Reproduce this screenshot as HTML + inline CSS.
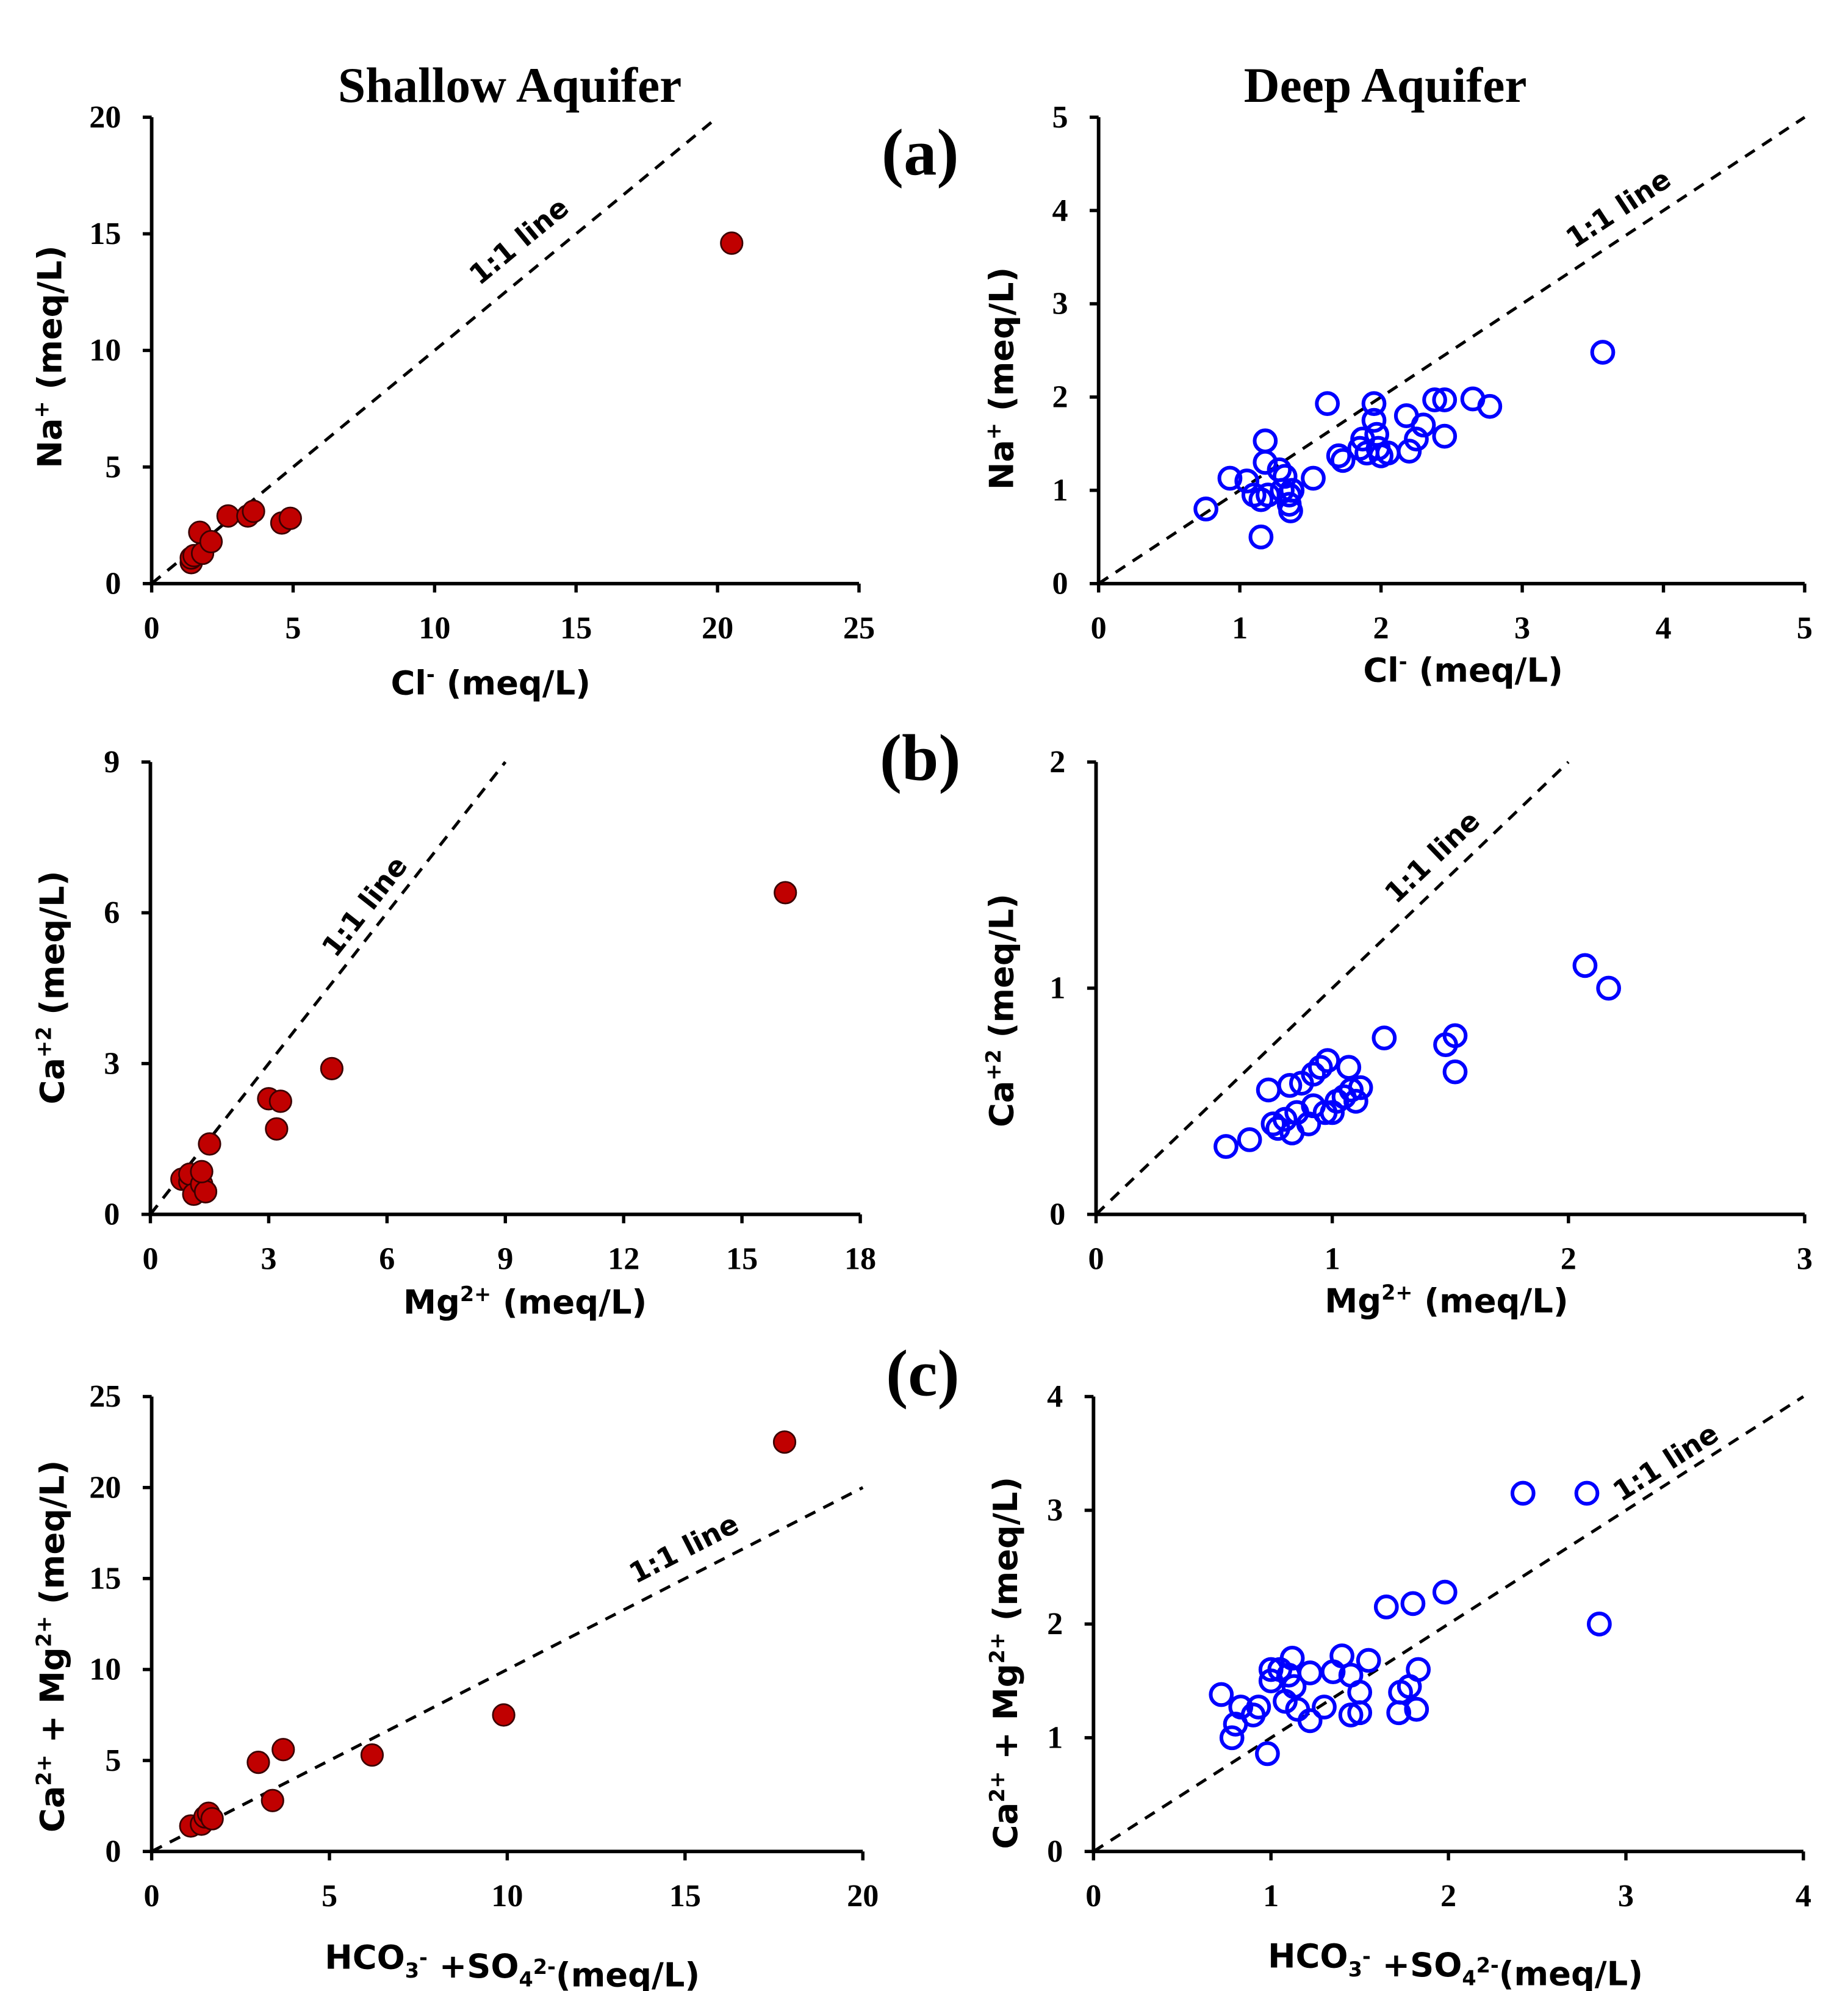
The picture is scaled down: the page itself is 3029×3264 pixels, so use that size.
<!DOCTYPE html>
<html><head><meta charset="utf-8"><style>
html,body{margin:0;padding:0;background:#fff}
svg{display:block}
.tk{font-family:"Liberation Serif",serif;font-weight:bold;font-size:25px;fill:#000}
.at{font-family:"DejaVu Sans","Liberation Sans",sans-serif;font-weight:bold;font-size:26px;fill:#000}
.ttl{font-family:"Liberation Serif",serif;font-weight:bold;font-size:39px;fill:#000}
.pl{font-family:"Liberation Serif",serif;font-weight:bold;font-size:52px;fill:#000}
.ol{font-family:"DejaVu Sans","Liberation Sans",sans-serif;font-weight:bold;font-size:22px;fill:#000}
</style></head><body>
<svg id="fig" xmlns="http://www.w3.org/2000/svg" width="3029" height="3264" viewBox="0 0 1450 1562.5">
<text class="ttl" x="400" y="80" text-anchor="middle">Shallow Aquifer</text>
<text class="ttl" x="1087" y="80" text-anchor="middle">Deep Aquifer</text>
<text class="pl" x="722" y="137" text-anchor="middle">(a)</text>
<text class="pl" x="722" y="612" text-anchor="middle">(b)</text>
<text class="pl" x="724" y="1095" text-anchor="middle">(c)</text>
</svg>
<script>
// Shallow (a) Cl vs Na
const saX=[1.4,1.4,1.5,1.8,1.7,2.1,2.7,3.4,3.6,4.6,4.9,20.5];
const saY=[0.9,1.1,1.2,1.3,2.2,1.8,2.9,2.9,3.1,2.6,2.8,14.6];
// Deep (a)
const daX=[0.76,0.93,1.05,1.1,1.15,1.15,1.18,1.18,1.2,1.28,1.3,1.32,1.35,1.35,1.36,1.37,1.52,1.62,1.7,1.73,1.85,1.87,1.9,1.95,1.95,1.97,1.98,2.0,2.05,2.18,2.2,2.25,2.3,2.38,2.45,2.45,2.65,2.77,3.57];
const daY=[0.8,1.13,1.1,0.95,0.9,0.5,1.53,1.3,0.95,1.22,1.0,1.15,0.95,0.85,0.78,1.0,1.13,1.93,1.37,1.32,1.45,1.55,1.4,1.93,1.75,1.6,1.45,1.37,1.4,1.8,1.42,1.55,1.7,1.97,1.97,1.58,1.98,1.9,2.48];
// Shallow (b) Mg vs Ca
const sbX=[0.8,1.0,1.0,1.1,1.3,1.4,1.3,1.5,3.0,3.3,3.2,4.6,16.1];
const sbY=[0.7,0.65,0.8,0.4,0.6,0.45,0.85,1.4,2.3,2.25,1.7,2.9,6.4];
// Deep (b)
const dbX=[0.55,0.65,0.73,0.75,0.77,0.8,0.82,0.83,0.85,0.87,0.9,0.92,0.92,0.95,0.97,0.98,1.0,1.02,1.05,1.07,1.08,1.1,1.12,1.22,1.48,1.52,1.52,2.07,2.17];
const dbY=[0.3,0.33,0.55,0.4,0.38,0.42,0.57,0.36,0.45,0.58,0.4,0.48,0.62,0.65,0.45,0.68,0.45,0.5,0.52,0.65,0.55,0.5,0.56,0.78,0.75,0.79,0.63,1.1,1.0];
// Shallow (c) HCO3+SO4 vs Ca+Mg
const scX=[1.1,1.4,1.5,1.6,1.7,3.0,3.7,3.4,6.2,9.9,17.8];
const scY=[1.4,1.5,1.9,2.1,1.8,4.9,5.6,2.8,5.3,7.5,22.5];
// Deep (c)
const dcX=[0.72,0.78,0.8,0.83,0.9,0.93,0.98,1.0,1.0,1.05,1.08,1.1,1.12,1.13,1.15,1.22,1.22,1.3,1.35,1.4,1.45,1.45,1.5,1.5,1.55,1.65,1.72,1.73,1.78,1.8,1.82,1.83,1.98,2.42,2.78,2.85];
const dcY=[1.38,1.0,1.12,1.27,1.2,1.27,0.86,1.5,1.6,1.6,1.32,1.55,1.7,1.45,1.25,1.15,1.57,1.27,1.58,1.72,1.2,1.55,1.4,1.22,1.68,2.15,1.22,1.4,1.45,2.18,1.25,1.6,2.28,3.15,3.15,2.0];
// tick labels
const ticksSA=[0,5,10,15,20,25], ticksSAy=[0,5,10,15,20];
const ticksDA=[0,1,2,3,4,5], ticksDAy=[0,1,2,3,4,5];
const ticksSB=[0,3,6,9,12,15,18], ticksSBy=[0,3,6,9];
const ticksDB=[0,1,2,3], ticksDBy=[0,1,2];
const ticksSC=[0,5,10,15,20], ticksSCy=[0,5,10,15,20,25];
const ticksDC=[0,1,2,3,4], ticksDCy=[0,1,2,3,4];

const NS='http://www.w3.org/2000/svg';
const svg=document.getElementById('fig');
function mk(tag,attrs,parent){const e=document.createElementNS(NS,tag);for(const k in attrs)e.setAttribute(k,attrs[k]);(parent||svg).appendChild(e);return e;}

function panel(p){
  const g=mk('g',{});
  
  
  const xmax=p.xt[p.xt.length-1], ymax=p.yt[p.yt.length-1];
  const sx=v=>p.x0+(p.x1-p.x0)*v/xmax, sy=v=>p.y0-(p.y0-p.y1)*v/ymax;
  const lm=p.lineMax;
  const ln=mk('line',{x1:sx(0),y1:sy(0),x2:sx(lm),y2:sy(lm),stroke:'#000','stroke-width':2.4,'stroke-dasharray':'9,7'},g);
  
  
  const ang=Math.atan2(sy(lm)-sy(0),sx(lm)-sx(0))*180/Math.PI;
  const lt=mk('text',{class:'ol',x:p.lab[0],y:p.lab[1],'text-anchor':'middle',transform:`rotate(${ang} ${p.lab[0]} ${p.lab[1]})`},g);
  lt.textContent='1:1 line';
  
  
  const ax=mk('path',{d:`M${p.x0},${p.y1} V${p.y0} H${p.x1}`,fill:'none',stroke:'#000','stroke-width':2.8},g);
  
  
  p.xt.forEach(v=>{
    mk('line',{x1:sx(v),y1:p.y0,x2:sx(v),y2:p.y0+7,stroke:'#000','stroke-width':2.6},g);
    const t=mk('text',{class:'tk',x:sx(v),y:p.y0+43,'text-anchor':'middle'},g);
    t.textContent=v;
    
    
  });
  p.yt.forEach(v=>{
    mk('line',{x1:p.x0-7,y1:sy(v),x2:p.x0,y2:sy(v),stroke:'#000','stroke-width':2.6},g);
    const t=mk('text',{class:'tk',x:p.x0-24,y:sy(v)+8,'text-anchor':'end'},g);
    t.textContent=v;
    
    
  });
  p.xs.forEach((x,i)=>{
    const c=mk('circle',p.fill?{cx:sx(x),cy:sy(p.ys[i]),r:8.5,fill:'#c00000',stroke:'#3a0000','stroke-width':1.3}:{cx:sx(x),cy:sy(p.ys[i]),r:8.3,fill:'none',stroke:'#0000ff','stroke-width':2.9},g);
    
    
  });
  const xt=mk('text',{class:'at',x:p.xtl[0],y:p.xtl[1],'text-anchor':'middle'},g);
  xt.innerHTML=p.xtitle;
  
  
  const yt=mk('text',{class:'at',x:p.ytl[0],y:p.ytl[1],'text-anchor':'middle',transform:`rotate(-90 ${p.ytl[0]} ${p.ytl[1]})`},g);
  yt.innerHTML=p.ytitle;
  
  
}
const sup=(t)=>`<tspan dy="-10" font-size="16">${t}</tspan><tspan dy="10"> </tspan>`;
const sub=(t)=>`<tspan dy="7" font-size="16">${t}</tspan><tspan dy="-7"></tspan>`;
const clT=`Cl${sup('-')}(meq/L)`, naT=`Na${sup('+')}(meq/L)`;
const mgT=`Mg${sup('2+')}(meq/L)`, caT=`Ca${sup('+2')}(meq/L)`;
const hcT=`HCO${sub('3')}<tspan dy="-10" font-size="16">-</tspan><tspan dy="10"> +SO</tspan>${sub('4')}<tspan dy="-10" font-size="16">2-</tspan><tspan dy="10">(meq/L)</tspan>`;
const cmT=`Ca${sup('2+')}+ Mg${sup('2+')}(meq/L)`;

panel({name:'shallow-na-cl-chart',x0:119,x1:674,y0:458,y1:92,xt:ticksSA,yt:ticksSAy,xs:saX,ys:saY,fill:true,lineMax:20,lab:[412,195],xtl:[385,545],ytl:[48,280],xtitle:clT,ytitle:naT});
panel({name:'deep-na-cl-chart',x0:862,x1:1416,y0:458,y1:92,xt:ticksDA,yt:ticksDAy,xs:daX,ys:daY,fill:false,lineMax:5,lab:[1274,170],xtl:[1148,535],ytl:[795,297],xtitle:clT,ytitle:naT});
panel({name:'shallow-ca-mg-chart',x0:118,x1:675,y0:953,y1:598,xt:ticksSB,yt:ticksSBy,xs:sbX,ys:sbY,fill:true,lineMax:9,lab:[292,716],xtl:[412,1031],ytl:[50,775],xtitle:mgT,ytitle:caT});
panel({name:'deep-ca-mg-chart',x0:860,x1:1416,y0:953,y1:598,xt:ticksDB,yt:ticksDBy,xs:dbX,ys:dbY,fill:false,lineMax:2,lab:[1129,678],xtl:[1135,1030],ytl:[795,793],xtitle:mgT,ytitle:caT});
panel({name:'shallow-camg-hco3so4-chart',x0:119,x1:677,y0:1453,y1:1096,xt:ticksSC,yt:ticksSCy,xs:scX,ys:scY,fill:true,lineMax:20,lab:[540,1222],xtl:[402,1545],ytl:[50,1292],xtitle:hcT,ytitle:cmT});
panel({name:'deep-camg-hco3so4-chart',x0:858,x1:1415,y0:1453,y1:1096,xt:ticksDC,yt:ticksDCy,xs:dcX,ys:dcY,fill:false,lineMax:4,lab:[1311,1154],xtl:[1142,1544],ytl:[798,1305],xtitle:hcT,ytitle:cmT});
</script>
</body></html>
